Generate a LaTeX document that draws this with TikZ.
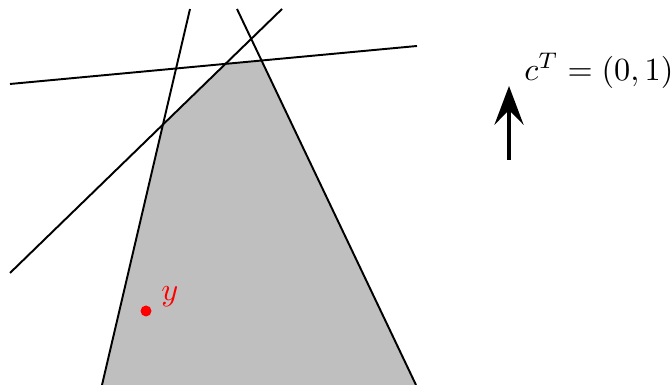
\documentclass[tikz,border=0pt]{standalone}
\usetikzlibrary{arrows.meta}

\newcommand{\pxl}{0.31pt}
\tikzset{
  cut/.style={semithick,black},
  feasible/.style={fill=black!25},
  cvec/.style={line width=1.1pt,-{Stealth[length=12pt,width=9pt,inset=4.5pt]}},
}

\begin{document}
\begin{tikzpicture}[x=\pxl,y=\pxl]
      \useasboundingbox (0,0) rectangle (671,385);
%
      \coordinate (a1) at (102,0);   \coordinate (b1) at (190,376);
      \coordinate (a2) at (416,0);   \coordinate (b2) at (237,376);
      \coordinate (a3) at (10,301);  \coordinate (b3) at (417,339);
      \coordinate (a4) at (10,112);  \coordinate (b4) at (282,376);
%
      \fill[feasible] (a1) -- (intersection of a1--b1 and a4--b4)
            -- (intersection of a4--b4 and a3--b3)
            -- (intersection of a3--b3 and a2--b2) -- (a2) -- cycle;
%
      \draw[cut] (a1) -- (b1);
      \draw[cut] (a2) -- (b2);
      \draw[cut] (a3) -- (b3);
      \draw[cut] (a4) -- (b4);
%
      \fill[red] (146,74) circle (5.5) coordinate (ypt);
      \node[red,anchor=west] (ylab) at (150,88) {$y$};
%
      \coordinate (ctail) at (509,225);
      \coordinate (chead) at (509,299);
      \draw[cvec] (ctail) -- (chead);
      \node[anchor=west] (clab) at (513,314) {$c^T=(0,1)$};
    \end{tikzpicture}
\end{document}
